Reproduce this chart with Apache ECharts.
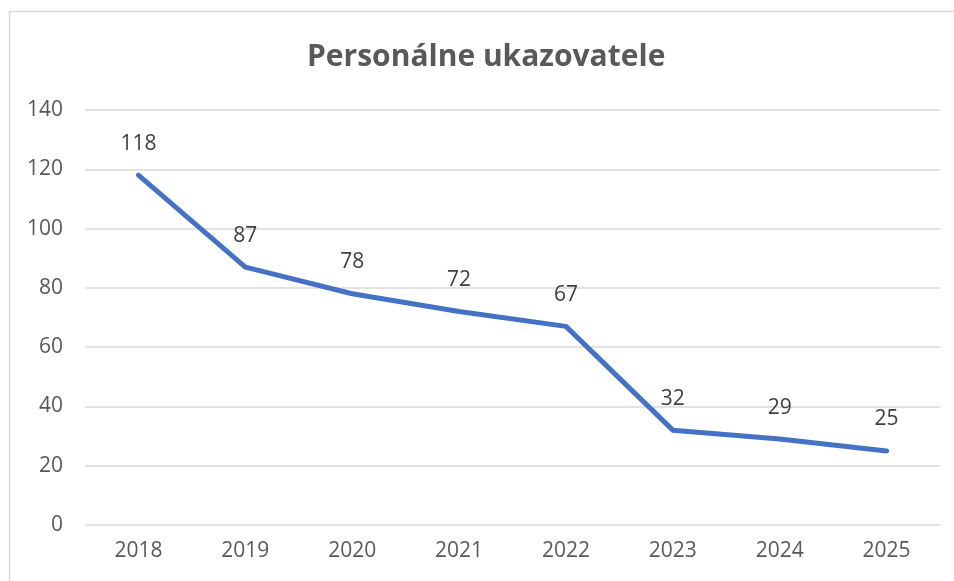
<!DOCTYPE html>
<html><head><meta charset="utf-8">
<script src="https://cdn.jsdelivr.net/npm/echarts@6/dist/echarts.min.js"></script>
<style>html,body{margin:0;padding:0;background:#fff}#c{width:954px;height:581px}</style>
</head><body><div id="c"></div>
<script>
const categories = ['2018','2019','2020','2021','2022','2023','2024','2025'];
const values = [118, 87, 78, 72, 67, 32, 29, 25];
const yTicks = [0, 20, 40, 60, 80, 100, 120, 140];
const titleText = 'Personálne ukazovatele';

const chart = echarts.init(document.getElementById('c'), null, {renderer: 'canvas'});
const font = '"Open Sans", "Noto Sans", sans-serif';
chart.setOption({
  animation: false,
  backgroundColor: '#ffffff',
  graphic: [{
    type: 'rect', shape: {x: 9.5, y: 11.5, width: 1000, height: 1000},
    style: {fill: 'none', stroke: '#d9d9d9', lineWidth: 1.5}, silent: true, z: -1
  }],
  title: {
    text: titleText, left: 302, top: 37,
    textStyle: {fontFamily: font, fontSize: 30, fontWeight: 'bold', color: '#595959'}
  },
  grid: {left: 85, right: 14, top: 110, bottom: 56, containLabel: false},
  xAxis: {
    type: 'category', data: categories, boundaryGap: true,
    axisLine: {show: false}, axisTick: {show: false},
    axisLabel: {fontFamily: font, fontSize: 21, color: '#595959', margin: 16}
  },
  yAxis: {
    type: 'value', min: yTicks[0], max: yTicks[yTicks.length - 1], interval: 20,
    axisLine: {show: false}, axisTick: {show: false},
    axisLabel: {fontFamily: font, fontSize: 21, color: '#595959', margin: 22},
    splitLine: {lineStyle: {color: '#d9d9d9', width: 1.5}}
  },
  series: [{
    type: 'line', data: values, symbol: 'circle', symbolSize: 2, showSymbol: true,
    itemStyle: {color: '#4472C4'},
    lineStyle: {color: '#4472C4', width: 5, cap: 'round', join: 'round'},
    label: {show: true, position: 'top', distance: 20, fontFamily: font, fontSize: 21, color: '#404040'}
  }]
});
</script></body></html>
